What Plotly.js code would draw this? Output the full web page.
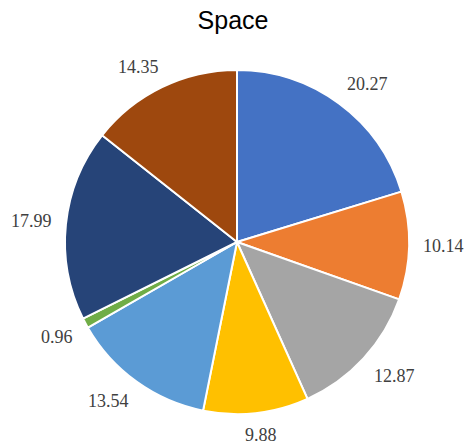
<!DOCTYPE html>
<html>
<head>
<meta charset="utf-8">
<script src="https://cdn.plot.ly/plotly-3.0.1.min.js"></script>
<style>html,body{margin:0;padding:0;background:#fff;}</style>
</head>
<body>
<div id="chart" style="width:466px;height:444px;"></div>
<script>
const categories = ["A", "B", "C", "D", "E", "F", "G", "H"];
const values = [20.27, 10.14, 12.87, 9.88, 13.54, 0.96, 17.99, 14.35];
const valueLabels = ["20.27", "10.14", "12.87", "9.88", "13.54", "0.96", "17.99", "14.35"];
const colors = ["#4472C4", "#ED7D31", "#A5A5A5", "#FFC000", "#5B9BD5", "#70AD47", "#264478", "#9E480E"];

const W = 466, H = 444;
const domX = [65 / W, 409 / W];
const domY = [30 / H, 374 / H];
const labelFont = { family: "Liberation Serif, Times New Roman, serif", size: 18, color: "#404040" };

const trace = {
  type: "pie",
  labels: categories,
  values: values,
  sort: false,
  direction: "clockwise",
  rotation: 0,
  marker: { colors: colors, line: { color: "#ffffff", width: 2 } },
  textinfo: "none",
  domain: { x: domX, y: domY },
  showlegend: false,
  hoverinfo: "none"
};

// Data labels placed outside each slice: anchor point on the slice mid-angle,
// label box shifted away from the pie like a corner-anchored label.
const cx = (domX[0] + domX[1]) / 2 * W;
const cyFromBottom = (domY[0] + domY[1]) / 2 * H;
const R = Math.min((domX[1] - domX[0]) * W, (domY[1] - domY[0]) * H) / 2;
const ctx = document.createElement("canvas").getContext("2d");
ctx.font = labelFont.size + "px 'Liberation Serif'";
const total = values.reduce((a, b) => a + b, 0);
const clampSign = x => Math.max(-1, Math.min(1, 2 * x));
let cum = 0;
const annotations = values.map((v, i) => {
  const mid = (cum + v / 2) / total * 2 * Math.PI;
  cum += v;
  const s = Math.sin(mid), c = Math.cos(mid);
  const w = ctx.measureText(valueLabels[i]).width;
  const h = 16;
  const r = R + 14;
  const px = cx + r * s + clampSign(s) * w / 2;
  const py = cyFromBottom + r * c + clampSign(c) * h / 2;
  return {
    xref: "paper", yref: "paper",
    x: px / W,
    y: py / H,
    text: valueLabels[i],
    showarrow: false,
    xanchor: "center", yanchor: "middle",
    font: labelFont
  };
});

const layout = {
  width: W,
  height: H,
  margin: { l: 0, r: 0, t: 0, b: 0 },
  paper_bgcolor: "#ffffff",
  title: {
    text: "Space",
    font: { family: "Liberation Sans, Arial, sans-serif", size: 25, color: "#000000" },
    x: 0.5,
    xanchor: "center",
    y: 1 - 20 / H,
    yanchor: "middle"
  },
  annotations: annotations,
  showlegend: false
};

Plotly.newPlot("chart", [trace], layout, { displayModeBar: false, staticPlot: true });
</script>
</body>
</html>
